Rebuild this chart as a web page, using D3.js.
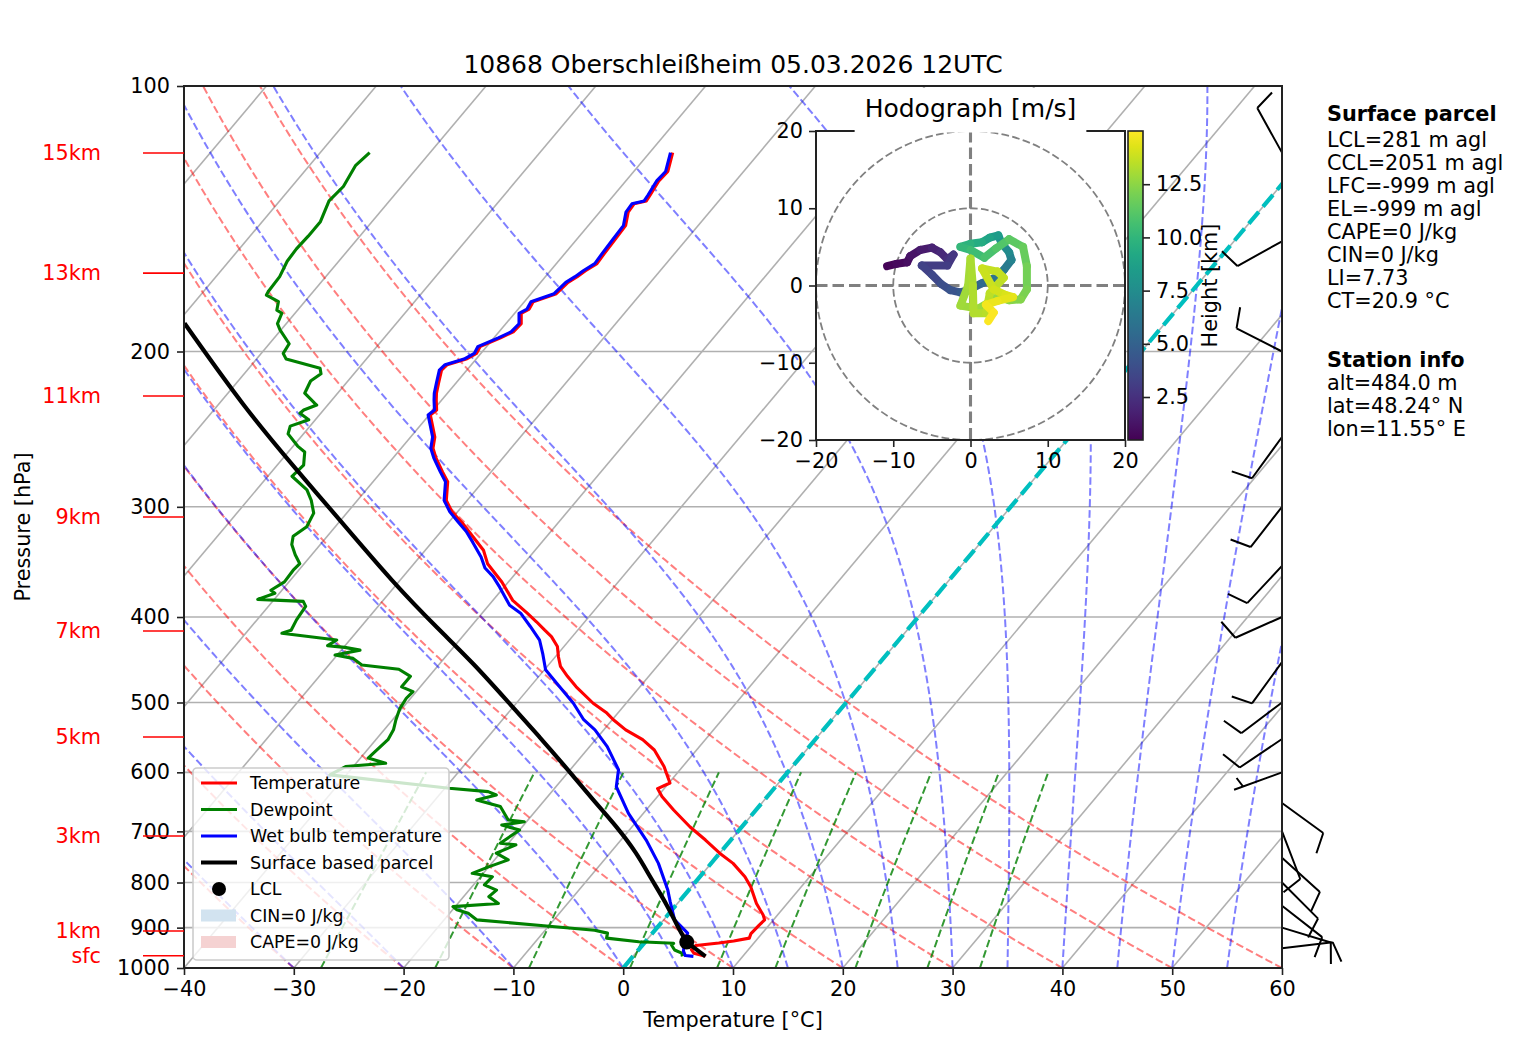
<!DOCTYPE html>
<html><head><meta charset="utf-8">
<script src="https://cdn.jsdelivr.net/npm/d3@7"></script>
<style>
body{margin:0;background:#fff;}
svg{font-family:"DejaVu Sans",sans-serif;}
</style>
</head><body>
<svg id="c" width="1517" height="1054"></svg>
<script>
// ---------------- DATA ----------------
const titleText = "10868 Oberschleißheim 05.03.2026 12UTC";
const pTicks = [100,200,300,400,500,600,700,800,900,1000];
const tTicks = [-40,-30,-20,-10,0,10,20,30,40,50,60];
const isothermT = [-110,-100,-90,-80,-70,-60,-50,-40,-30,-20,-10,0,10,20,30,40,50,60];
const dryT0 = [-40,-30,-20,-10,0,10,20,30,40,50,60];
const moistT0 = [-40,-30,-20,-10,0,5,10,15,20,25,30,35,40,45,50,55,60];
const mixRatio = [0.4,1,2,4,7,10,16,24,32]; // g/kg

// Temperature profile
const tempP = [970,962,953,943,937,932,925,914,894,882,871,845,809,788,761,741,716,692,662,639,626,617,591,566,551,537,523,514,501,480,467,455,444,432,421,414,405,396,383,365,348,336,322,313,304,295,281,274,264,257.5,250,236,233,227,223,217,210,207,204,201,197.5,193,190,186,181,179,175.6,172,167,164.5,162,159,155,149.5,144,139,136,135,133,128,125,119];
const tempT = [6.6,5.3,4.8,4.9,6.8,8.0,9.2,9.0,9.1,9.2,8.7,7.2,5.4,4.1,2.0,0.0,-2.3,-4.7,-7.5,-9.6,-10.6,-9.9,-11.7,-13.85,-15.7,-18.0,-19.9,-21.0,-23.0,-25.8,-27.4,-28.8,-29.7,-30.6,-31.9,-33.0,-34.4,-35.9,-38.2,-40.6,-43.3,-44.7,-47.1,-48.7,-50.5,-51.9,-53.2,-54.4,-56.1,-57.1,-57.8,-59.9,-59.7,-60.5,-61.0,-61.6,-62.3,-62.2,-60.9,-60.4,-60.6,-59.4,-58.7,-58.6,-59.4,-59.0,-59.2,-57.7,-57.5,-57.1,-56.8,-56.3,-56.4,-56.5,-56.6,-57.4,-57.5,-56.6,-56.7,-57.0,-56.9,-57.9];

// Dewpoint profile
const dewP = [970,962,954,941,937.6,933.6,925,913,906,896,882,867,859,852,845,830,816,805,788,781,768,754,741,725,722,697.5,688.5,682.5,679.5,656,645,636.5,631,625.5,604,591,586,578,571,551,537,523,508,494.5,486,480,467,458.4,453.3,445.6,441.7,436.1,433,431,424.7,417.4,414,403,389,384,382,376,373,365,354,348,340,331,324,316,305,295,287,277,269,260,256,248,243,239,235,233,230,229,223,216,212,209,204,201,196,189,186,181,179.5,175.6,172.6,171,164.5,158,153,148,142.5,135,130,123,119];
const dewT = [4.5,4.2,3.3,2.6,2.7,-0.6,-3.8,-4.1,-5.5,-10.2,-17.0,-18.3,-19.6,-20.2,-16.3,-17.7,-17.5,-19.0,-18.9,-21.0,-20.0,-18.75,-20.35,-19.2,-20.75,-20.0,-22.0,-20.2,-21.8,-23.55,-26.2,-24.8,-25.8,-29.6,-41.5,-40.7,-37.3,-39.3,-39.2,-38.9,-39.15,-39.7,-40.2,-40.4,-40.3,-41.7,-41.7,-43.3,-47.0,-48.3,-50.2,-48.3,-49.9,-51.6,-51.2,-56.7,-56.1,-56.4,-56.6,-57.2,-61.5,-60.4,-61.0,-60.4,-60.5,-60.4,-61.5,-62.6,-63.1,-62.6,-63.0,-64.2,-65.4,-67.8,-67.6,-68.5,-69.6,-71.4,-71.8,-70.6,-71.9,-71.8,-71.0,-71.3,-73.0,-73.4,-73.0,-73.5,-77.3,-78.0,-78.2,-80.1,-80.8,-81.2,-81.9,-82.4,-84.0,-84.1,-84.2,-84.7,-84.8,-84.7,-84.7,-85.5,-85.3,-85.8,-85.5];

// Wet bulb profile
const wbP = [970,968,957,935,913,882,841,816,761,716,668,623,596,561,537,523,501,475.5,459,440,425,410,396,388,370,360,352,342,329,320,312,304,295,281,274,264,257.5,250,236,233,227,223,217,210,207,204,201,197.5,193,190,186,181,179,175.6,172,167,164.5,162,159,155,149.5,144,139,136,135,133,128,125,119];
const wbT = [5.5,4.7,4.2,3.6,3.2,1.0,-0.8,-1.9,-4.8,-7.7,-11.35,-14.5,-15.6,-18.4,-20.8,-22.6,-24.8,-27.85,-29.9,-31.4,-32.7,-34.6,-36.5,-38.1,-40.4,-41.8,-43.2,-44.4,-46.3,-47.7,-49.2,-50.7,-52.1,-53.4,-54.6,-56.3,-57.3,-58.0,-60.1,-59.9,-60.7,-61.2,-61.8,-62.5,-62.4,-61.1,-60.6,-60.8,-59.6,-58.9,-58.8,-59.6,-59.2,-59.4,-57.9,-57.7,-57.3,-57.0,-56.5,-56.6,-56.7,-56.8,-57.6,-57.7,-56.8,-56.9,-57.2,-57.1,-58.1];

// Surface based parcel (dry part, then moist part from LCL)
const parcelDryP = [970,934.5];
const parcelDryT = [6.6,3.8];
const parcelP = [934.5,900,852,788,741,691.5,645,596,547,503,451,414,366,310.5,272.5,232,185.8];
const parcelT = [3.8,1.9,-0.6,-4.55,-7.55,-11.4,-15.6,-20.2,-25.3,-30.4,-37.0,-42.6,-50.4,-60.1,-67.85,-77.3,-89.3];
const lclP = [934.5], lclT = [3.8];

// Height markers (left)
const kmLabels = ["15km","13km","11km","9km","7km","5km","3km","1km","sfc"];
const kmP = [119.1,163,224.6,308.1,414.9,547.1,708.5,907.8,968.5];

// Wind barbs
const barbP = [119,150,200,250,300,350,400,450,500,550,600,650,700,750,800,850,900,950];
const barbDir = [331,241,297,216,218,223,246,216,233,236,250,126,159,132,135,128,107,83];
const barbSpd = [10,10,10,10,10,10,10,10,10,10,5,10,10,10,10,10,10,10];

// Hodograph (height km, u, v m/s)
const hodoH = [0.5,0.7,0.9,1.1,1.4,1.7,2.0,2.3,2.6,2.9,3.2,3.5,3.8,4.1,4.4,4.7,5.2,5.7,6.2,6.7,7.2,7.7,8.2,8.7,9.2,9.6,10.0,10.3,10.6,10.9,11.2,11.5,11.8,12.0,12.2,12.4,12.6,12.8,12.9,13.0,13.1,13.2,13.3,13.4,13.5,13.6,13.7,13.8,13.9,14.1,14.3,14.5,14.7,14.8,15.0];
const hodoU = [-10.8,-9.6,-8.2,-7.8,-6.5,-5.0,-3.9,-3.0,-2.2,-3.0,-6.3,-5.0,-3.8,-2.6,-1.3,-0.3,1.5,3.2,4.3,5.3,5.0,4.0,3.6,2.5,1.5,0.0,-1.3,0.0,1.8,3.3,5.0,6.8,7.3,7.3,6.5,5.0,3.5,1.0,-1.3,-0.3,0.0,0.3,0.4,2.0,2.5,4.3,3.5,1.5,3.0,4.5,5.5,3.5,2.0,3.0,2.3];
const hodoV = [2.5,2.8,3.0,3.8,4.6,4.9,4.3,3.4,4.0,2.6,2.6,1.4,0.2,-0.6,-0.9,-0.6,0.3,1.0,2.0,3.3,4.3,5.5,6.5,6.2,5.6,5.4,5.0,4.6,3.6,4.8,6.0,5.0,2.5,-0.5,-1.8,-1.9,-1.5,-3.0,-2.6,0.0,3.5,0.0,-3.6,-3.6,-1.0,1.0,1.8,2.2,-0.5,-1.2,-1.5,-2.0,-2.5,-3.5,-4.6];
const hodoTicks = [-20,-10,0,10,20];
const hodoRings = [10,20];
const cbarRange = [0.48,15.0];
const cbarTicks = [2.5,5.0,7.5,10.0,12.5];

const legendItems = [
  {label:"Temperature", type:"line", color:"#ff0000", w:3.1},
  {label:"Dewpoint", type:"line", color:"#008000", w:3.1},
  {label:"Wet bulb temperature", type:"line", color:"#0000ff", w:3.1},
  {label:"Surface based parcel", type:"line", color:"#000000", w:4.2},
  {label:"LCL", type:"dot", color:"#000000"},
  {label:"CIN=0 J/kg", type:"patch", color:"#d2e3f0"},
  {label:"CAPE=0 J/kg", type:"patch", color:"#f5d2d2"}
];
const parcelInfoTitle = "Surface parcel";
const parcelInfo = ["LCL=281 m agl","CCL=2051 m agl","LFC=-999 m agl","EL=-999 m agl","CAPE=0 J/kg","CIN=0 J/kg","LI=7.73","CT=20.9 °C"];
const stationTitle = "Station info";
const stationInfo = ["alt=484.0 m","lat=48.24° N","lon=11.55° E"];

// ---------------- LAYOUT ----------------
const L=184, R=1282, T=86, B=968, SK=0.8404;
const FS=20.8;
const svg = d3.select("#c");
const xs = d3.scaleLinear().domain([-40,60]).range([L,R]);
const ys = d3.scaleLog().domain([1000,100]).range([B,T]);
const X = (t,p) => xs(t) + (B - ys(p))*SK;

const defs = svg.append("defs");
defs.append("clipPath").attr("id","clipMain").append("rect")
  .attr("x",L).attr("y",T).attr("width",R-L).attr("height",B-T);

const g = svg.append("g").attr("clip-path","url(#clipMain)");
const line = d3.line().x(d=>X(d[1],d[0])).y(d=>ys(d[0]));

// grid
pTicks.forEach(p=>{
  g.append("line").attr("x1",L).attr("x2",R).attr("y1",ys(p)).attr("y2",ys(p))
   .attr("stroke","#b0b0b0").attr("stroke-width",1.6);
});
isothermT.forEach(t=>{
  g.append("line").attr("x1",X(t,1000)).attr("y1",ys(1000)).attr("x2",X(t,100)).attr("y2",ys(100))
   .attr("stroke","#b0b0b0").attr("stroke-width",1.6);
});

// dry adiabats
const pLev = d3.range(1000,99,-5);
dryT0.forEach(t0=>{
  const th=t0+273.15;
  const pts = pLev.map(p=>[p, th*Math.pow(p/1000,0.28571)-273.15]);
  g.append("path").attr("d",line(pts)).attr("fill","none").attr("stroke","#ff0000")
   .attr("stroke-opacity",0.5).attr("stroke-width",2).attr("stroke-dasharray","7.7,3.3");
});

// moist adiabats
const Rd=287.04749, Cp=1004.6662, Lv=2.50084e6, EPS=0.621957;
function esat(Tk){const c=Tk-273.15; return 6.112*Math.exp(17.67*c/(c+243.5));}
function dTdp(p,Tk){
  let e=esat(Tk); if(e>0.8*p) e=0.8*p;
  const r=EPS*e/(p-e);
  return (1/p)*(Rd*Tk+Lv*r)/(Cp+(Lv*Lv*r*EPS)/(Rd*Tk*Tk));
}
moistT0.forEach(t0=>{
  let Tk=t0+273.15; const pts=[[1000,t0]]; const dp=-2.5;
  for(let p=1000;p>100.01;p+=dp){
    const k1=dTdp(p,Tk), k2=dTdp(p+dp/2,Tk+dp/2*k1), k3=dTdp(p+dp/2,Tk+dp/2*k2), k4=dTdp(p+dp,Tk+dp*k3);
    Tk+=dp/6*(k1+2*k2+2*k3+k4);
    pts.push([p+dp,Tk-273.15]);
  }
  g.append("path").attr("d",line(pts)).attr("fill","none").attr("stroke","#0000ff")
   .attr("stroke-opacity",0.5).attr("stroke-width",2).attr("stroke-dasharray","7.7,3.3");
});

// mixing ratio lines
const pMix = d3.range(1000,599,-10);
mixRatio.forEach(w=>{
  const ww=w/1000;
  const pts = pMix.map(p=>{const e=p*ww/(EPS+ww); const l=Math.log(e/6.112); return [p, 243.5*l/(17.67-l)];});
  g.append("path").attr("d",line(pts)).attr("fill","none").attr("stroke","#008000")
   .attr("stroke-opacity",0.8).attr("stroke-width",2).attr("stroke-dasharray","7.7,3.3");
});

// 0 isotherm
g.append("line").attr("x1",X(0,1000)).attr("y1",ys(1000)).attr("x2",X(0,100)).attr("y2",ys(100))
 .attr("stroke","#00bfbf").attr("stroke-width",4.2).attr("stroke-dasharray","15.4,6.7");

// profiles
const zip=(a,b)=>a.map((v,i)=>[v,b[i]]);
g.append("path").attr("d",line(zip(dewP,dewT))).attr("fill","none").attr("stroke","#008000").attr("stroke-width",3.1).attr("stroke-linejoin","round");
g.append("path").attr("d",line(zip(tempP,tempT))).attr("fill","none").attr("stroke","#ff0000").attr("stroke-width",3.1).attr("stroke-linejoin","round");
g.append("path").attr("d",line(zip(wbP,wbT))).attr("fill","none").attr("stroke","#0000ff").attr("stroke-width",3.1).attr("stroke-linejoin","round");
const pline = d3.line().x(d=>X(d[1],d[0])).y(d=>ys(d[0])).curve(d3.curveBasis);
g.append("path").attr("d",line(zip(parcelDryP,parcelDryT))).attr("fill","none").attr("stroke","#000").attr("stroke-width",4.2);
g.append("path").attr("d",pline(zip(parcelP,parcelT))).attr("fill","none").attr("stroke","#000").attr("stroke-width",4.2);
g.append("circle").attr("cx",X(lclT[0],lclP[0])).attr("cy",ys(lclP[0])).attr("r",7.5).attr("fill","#000");

// wind barbs
function drawBarb(xb,yb,dir,spd){
  const Lb=51, rad=dir*Math.PI/180;
  const dx=Math.sin(rad), dy=-Math.cos(rad);
  const px=-dy, py=dx;
  const tx=xb+dx*Lb, ty=yb+dy*Lb;
  let d=`M${xb},${yb}L${tx},${ty}`;
  const s=Math.round(spd/5)*5;
  const nF=Math.floor(s/10), half=(s%10)>=5;
  let off=0;
  for(let i=0;i<nF;i++){
    const sx=tx-dx*off, sy=ty-dy*off;
    d+=`M${sx},${sy}L${sx+dx*0.125*Lb+px*0.4*Lb},${sy+dy*0.125*Lb+py*0.4*Lb}`;
    off+=0.125*Lb;
  }
  if(half){
    if(nF===0) off=0.1875*Lb;
    const sx=tx-dx*off, sy=ty-dy*off;
    d+=`M${sx},${sy}L${sx+dx*0.0625*Lb+px*0.2*Lb},${sy+dy*0.0625*Lb+py*0.2*Lb}`;
  }
  svg.append("path").attr("d",d).attr("fill","none").attr("stroke","#000").attr("stroke-width",2);
}
barbP.forEach((p,i)=>drawBarb(R, ys(p), barbDir[i], barbSpd[i]));

// axes frame
svg.append("rect").attr("x",L).attr("y",T).attr("width",R-L).attr("height",B-T)
  .attr("fill","none").attr("stroke","#222").attr("stroke-width",2);

const yAx = svg.append("g").attr("transform",`translate(${L},0)`)
  .call(d3.axisLeft(ys).tickValues(pTicks).tickFormat(d3.format("d")).tickSize(7).tickPadding(7));
const xAx = svg.append("g").attr("transform",`translate(0,${B})`)
  .call(d3.axisBottom(xs).tickValues(tTicks).tickSize(7).tickPadding(6));
[yAx,xAx].forEach(a=>{a.select(".domain").remove(); a.selectAll("text").attr("font-size",FS).attr("font-family","DejaVu Sans").attr("fill","#000");
  a.selectAll(".tick line").attr("stroke","#222").attr("stroke-width",1.6);});

// km labels
kmLabels.forEach((k,i)=>{
  const yy=ys(kmP[i]);
  svg.append("line").attr("x1",143).attr("x2",L).attr("y1",yy).attr("y2",yy).attr("stroke","#ff0000").attr("stroke-width",1.6);
  svg.append("text").attr("x",101).attr("y",yy).attr("dy","0.35em").attr("text-anchor","end")
    .attr("font-size",FS).attr("fill","#ff0000").text(k);
});

// labels & title
svg.append("text").attr("x",(L+R)/2).attr("y",64).attr("dy","0.35em").attr("text-anchor","middle").attr("font-size",25).text(titleText);
svg.append("text").attr("x",(L+R)/2).attr("y",1020).attr("dy","0.35em").attr("text-anchor","middle").attr("font-size",FS).text("Temperature [°C]");
svg.append("text").attr("transform",`translate(23,${(T+B)/2}) rotate(-90)`).attr("dy","0.35em").attr("text-anchor","middle").attr("font-size",FS).text("Pressure [hPa]");

// legend
const lg = svg.append("g");
lg.append("rect").attr("x",193).attr("y",768).attr("width",256).attr("height",192).attr("rx",4)
  .attr("fill","#fff").attr("fill-opacity",0.8).attr("stroke","#cccccc").attr("stroke-width",1.6);
legendItems.forEach((it,i)=>{
  const yy=783+i*26.5;
  if(it.type==="line") lg.append("line").attr("x1",201).attr("x2",237).attr("y1",yy).attr("y2",yy).attr("stroke",it.color).attr("stroke-width",it.w);
  else if(it.type==="dot") lg.append("circle").attr("cx",219).attr("cy",yy).attr("r",7).attr("fill",it.color);
  else lg.append("rect").attr("x",201).attr("y",yy-6).attr("width",35).attr("height",12).attr("fill",it.color);
  lg.append("text").attr("x",250).attr("y",yy).attr("dy","0.35em").attr("font-size",17.4).text(it.label);
});

// right-hand text
const rt = svg.append("g").attr("font-size",FS);
rt.append("text").attr("x",1327).attr("y",114).attr("dy","0.35em").attr("font-weight","bold").text(parcelInfoTitle);
parcelInfo.forEach((s,i)=>rt.append("text").attr("x",1327).attr("y",140+i*23).attr("dy","0.35em").text(s));
rt.append("text").attr("x",1327).attr("y",360).attr("dy","0.35em").attr("font-weight","bold").text(stationTitle);
stationInfo.forEach((s,i)=>rt.append("text").attr("x",1327).attr("y",383+i*23).attr("dy","0.35em").text(s));

// ---------------- HODOGRAPH ----------------
const HL=816, HR=1125, HT=131, HB=440;
const hx = d3.scaleLinear().domain([-20,20]).range([HL,HR]);
const hy = d3.scaleLinear().domain([-20,20]).range([HB,HT]);
defs.append("clipPath").attr("id","clipHodo").append("rect").attr("x",HL).attr("y",HT).attr("width",HR-HL).attr("height",HB-HT);
const hg = svg.append("g");
hg.append("rect").attr("x",HL).attr("y",HT).attr("width",HR-HL).attr("height",HB-HT).attr("fill","#fff");
const hc = hg.append("g").attr("clip-path","url(#clipHodo)");
hodoRings.forEach(r=>{
  hc.append("ellipse").attr("cx",hx(0)).attr("cy",hy(0)).attr("rx",hx(r)-hx(0)).attr("ry",hy(0)-hy(r))
   .attr("fill","none").attr("stroke","#808080").attr("stroke-width",1.8).attr("stroke-dasharray","7.7,3.3");
});
hc.append("line").attr("x1",HL).attr("x2",HR).attr("y1",hy(0)).attr("y2",hy(0)).attr("stroke","#808080").attr("stroke-width",3.1).attr("stroke-dasharray","11.5,5");
hc.append("line").attr("y1",HT).attr("y2",HB).attr("x1",hx(0)).attr("x2",hx(0)).attr("stroke","#808080").attr("stroke-width",3.1).attr("stroke-dasharray","11.5,5");
const cnorm = d3.scaleLinear().domain(cbarRange).range([0,1]).clamp(true);
for(let i=0;i<hodoH.length-1;i++){
  const c=d3.interpolateViridis(cnorm((hodoH[i]+hodoH[i+1])/2));
  hc.append("line").attr("x1",hx(hodoU[i])).attr("y1",hy(hodoV[i])).attr("x2",hx(hodoU[i+1])).attr("y2",hy(hodoV[i+1]))
    .attr("stroke",c).attr("stroke-width",8).attr("stroke-linecap","round");
}
hg.append("rect").attr("x",HL).attr("y",HT).attr("width",HR-HL).attr("height",HB-HT).attr("fill","none").attr("stroke","#222").attr("stroke-width",2);
const hyA = hg.append("g").attr("transform",`translate(${HL},0)`).call(d3.axisLeft(hy).tickValues(hodoTicks).tickSize(7).tickPadding(6));
const hxA = hg.append("g").attr("transform",`translate(0,${HB})`).call(d3.axisBottom(hx).tickValues(hodoTicks).tickSize(7).tickPadding(6));
[hyA,hxA].forEach(a=>{a.select(".domain").remove(); a.selectAll("text").attr("font-size",FS).attr("font-family","DejaVu Sans").attr("fill","#000");
  a.selectAll(".tick line").attr("stroke","#222").attr("stroke-width",1.6);});
// title with white box
const tg = hg.append("g");
const ht = tg.append("text").attr("x",(HL+HR)/2).attr("y",108).attr("dy","0.35em").attr("text-anchor","middle").attr("font-size",25).text("Hodograph [m/s]");
const bb = ht.node().getBBox();
const boxTop = Math.max(bb.y-6,88);
tg.insert("rect","text").attr("x",bb.x-10).attr("y",boxTop).attr("width",bb.width+20).attr("height",HT-boxTop+1.5).attr("fill","#fff");

// colorbar
const CL=1128, CR=1143;
const cy = d3.scaleLinear().domain(cbarRange).range([HB,HT]);
const grad = defs.append("linearGradient").attr("id","vir").attr("x1",0).attr("y1",1).attr("x2",0).attr("y2",0);
d3.range(0,1.0001,0.05).forEach(f=>grad.append("stop").attr("offset",f).attr("stop-color",d3.interpolateViridis(f)));
hg.append("rect").attr("x",CL).attr("y",HT).attr("width",CR-CL).attr("height",HB-HT).attr("fill","url(#vir)").attr("stroke","#222").attr("stroke-width",1.6);
const cA = hg.append("g").attr("transform",`translate(${CR},0)`).call(d3.axisRight(cy).tickValues(cbarTicks).tickFormat(d3.format(".1f")).tickSize(7).tickPadding(6));
cA.select(".domain").remove();
cA.selectAll("text").attr("font-size",FS).attr("font-family","DejaVu Sans").attr("fill","#000");
cA.selectAll(".tick line").attr("stroke","#222").attr("stroke-width",1.6);
hg.append("text").attr("transform",`translate(1210,${(HT+HB)/2}) rotate(-90)`).attr("dy","0.35em").attr("text-anchor","middle").attr("font-size",FS).text("Height [km]");
</script>
</body></html>
